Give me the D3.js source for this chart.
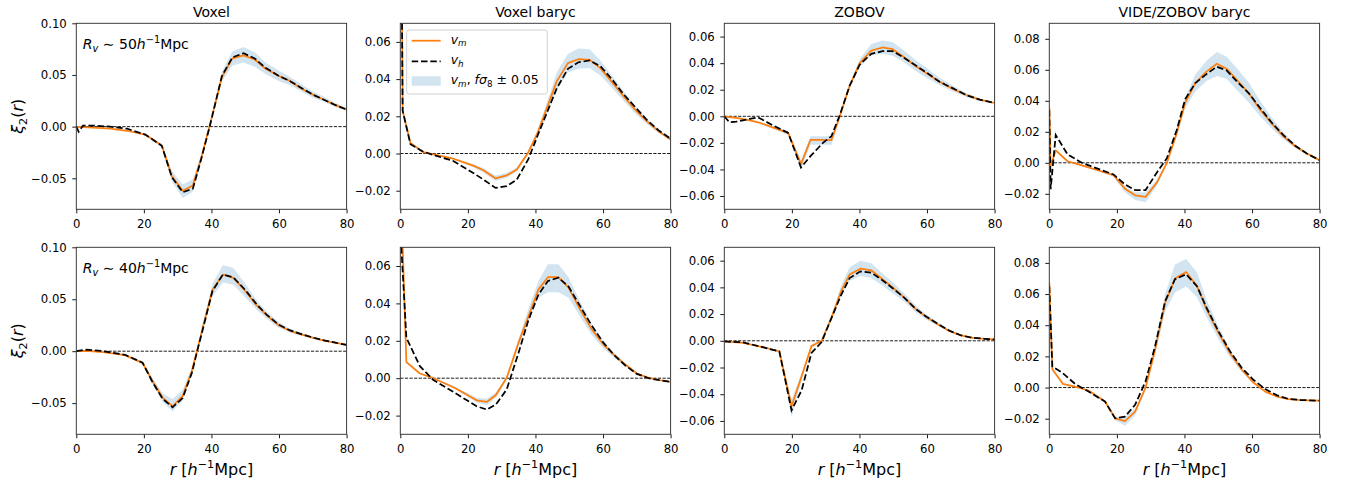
<!DOCTYPE html>
<html><head><meta charset="utf-8">
<script src="https://cdn.jsdelivr.net/npm/d3@7"></script>
<style>
body{margin:0;background:#fff}
svg text{font-family:"DejaVu Sans","Liberation Sans",sans-serif;fill:#000}
</style>
</head><body><svg id="chart" width="1347" height="485"></svg>
<script>
// ---------- DATA ----------
const xTicks = [0, 20, 40, 60, 80];
const titles = ["Voxel", "Voxel baryc", "ZOBOV", "VIDE/ZOBOV baryc"];
const radiusLabels = ["50", "40"];

const yDomainVoxel = [-0.08, 0.10];
const yDomainVoxelBaryc = [-0.03, 0.07];
const yDomainZobov = [-0.07, 0.07];
const yDomainVide = [-0.03, 0.09];
const yTicksVoxel = [-0.05, 0.00, 0.05, 0.10];
const yTicksVoxelBaryc = [-0.02, 0.00, 0.02, 0.04, 0.06];
const yTicksZobov = [-0.06, -0.04, -0.02, 0.00, 0.02, 0.04, 0.06];
const yTicksVide = [-0.02, 0.00, 0.02, 0.04, 0.06, 0.08];

// Row 1 (R_v ~ 50), Voxel
const r1  = [0, 0.7, 2, 5, 10, 15, 20.4, 25.3, 28.3, 31.5, 34.5, 37, 39.4, 43.1, 46.2, 49.5, 52.8, 56, 60, 63.3, 66.6, 70, 73.3, 76.6, 80];
const vm1 = [0, -0.0002, -0.0005, -0.001, -0.002, -0.004, -0.0077, -0.0183, -0.048, -0.062, -0.057, -0.030, 0, 0.048, 0.066, 0.069, 0.065, 0.056, 0.049, 0.044, 0.037, 0.031, 0.026, 0.021, 0.0165];
const vh1 = [0, -0.005, 0.001, 0.001, 0, -0.002, -0.0077, -0.0185, -0.049, -0.0635, -0.060, -0.031, -0.001, 0.049, 0.067, 0.071, 0.066, 0.057, 0.049, 0.044, 0.0375, 0.031, 0.026, 0.021, 0.0165];
const lo1 = [0, -0.0003, -0.0006, -0.0012, -0.0024, -0.0045, -0.0085, -0.020, -0.053, -0.069, -0.063, -0.033, -0.001, 0.044, 0.059, 0.062, 0.058, 0.051, 0.044, 0.040, 0.034, 0.028, 0.024, 0.019, 0.0155];
const hi1 = [0, -0.0001, -0.0004, -0.0008, -0.0016, -0.0035, -0.007, -0.0165, -0.043, -0.056, -0.051, -0.027, 0.001, 0.053, 0.073, 0.077, 0.072, 0.062, 0.054, 0.048, 0.041, 0.034, 0.029, 0.023, 0.018];

// Row 1, Voxel baryc
const r2  = [0, 0.7, 3, 6.8, 9.8, 15.7, 21.6, 24.6, 28.2, 31.5, 34.5, 37.9, 40.5, 43.4, 46.3, 49.6, 52.7, 56, 59.2, 62.6, 66, 69.5, 73, 76.4, 80];
const vm2 = [0.2, 0.023, 0.0057, 0.0007, -0.0005, -0.0028, -0.0065, -0.009, -0.0134, -0.0118, -0.0086, 0.0007, 0.0105, 0.0245, 0.0388, 0.0486, 0.0507, 0.0504, 0.0459, 0.0385, 0.031, 0.0236, 0.0173, 0.012, 0.0075];
const vh2 = [0.2, 0.023, 0.005, 0.001, -0.0008, -0.004, -0.0105, -0.014, -0.0185, -0.0175, -0.014, -0.003, 0.009, 0.022, 0.035, 0.0455, 0.049, 0.050, 0.047, 0.040, 0.032, 0.025, 0.018, 0.0125, 0.008];
const lo2 = [0.2, 0.023, 0.0055, 0.0006, -0.0007, -0.0032, -0.0074, -0.0102, -0.0148, -0.013, -0.0097, 0, 0.009, 0.0205, 0.034, 0.0435, 0.0455, 0.046, 0.042, 0.0355, 0.0285, 0.0215, 0.0158, 0.011, 0.007];
const hi2 = [0.2, 0.023, 0.006, 0.0008, -0.0003, -0.0024, -0.0056, -0.0078, -0.0118, -0.0104, -0.0075, 0.0014, 0.012, 0.0275, 0.0435, 0.0535, 0.0565, 0.056, 0.050, 0.042, 0.0338, 0.0258, 0.0188, 0.013, 0.008];

// Row 1, ZOBOV
const r3  = [0, 1.5, 3.6, 7.5, 10, 14.5, 18.9, 22.7, 25.5, 29.2, 31.7, 34.2, 37.1, 40.1, 43.5, 46.8, 49.8, 52.9, 56.8, 59.8, 63.7, 67.7, 71.6, 75.6, 80];
const vm3 = [0, -0.0006, -0.0012, -0.003, -0.0045, -0.0085, -0.0125, -0.036, -0.0178, -0.0178, -0.018, 0, 0.023, 0.040, 0.0495, 0.0518, 0.0505, 0.045, 0.0375, 0.0325, 0.026, 0.0205, 0.016, 0.0125, 0.010];
const vh3 = [0, -0.0045, -0.004, -0.002, -0.0008, -0.007, -0.0125, -0.0385, -0.030, -0.020, -0.015, 0.001, 0.023, 0.039, 0.047, 0.049, 0.049, 0.0445, 0.038, 0.033, 0.026, 0.021, 0.016, 0.0125, 0.010];
const lo3 = [0, -0.0007, -0.0014, -0.0034, -0.005, -0.0095, -0.014, -0.040, -0.0215, -0.0215, -0.0215, -0.001, 0.021, 0.037, 0.046, 0.047, 0.0455, 0.041, 0.034, 0.029, 0.0235, 0.0185, 0.0145, 0.0115, 0.0095];
const hi3 = [0, -0.0005, -0.001, -0.0026, -0.004, -0.0075, -0.011, -0.033, -0.015, -0.015, -0.015, 0.001, 0.025, 0.043, 0.0545, 0.057, 0.056, 0.050, 0.042, 0.0365, 0.029, 0.023, 0.0175, 0.0135, 0.0105];

// Row 1, VIDE/ZOBOV baryc
const r4  = [0, 0.4, 1.9, 5.4, 9.6, 14.3, 19, 22.4, 25.4, 28.5, 31.8, 34.8, 37.7, 40.2, 43.2, 46.6, 49.6, 52.5, 55.5, 59, 62.4, 65.9, 69.3, 72.8, 76.2, 80];
const vm4 = [0.036, -0.002, 0.008, 0.001, -0.0017, -0.0048, -0.008, -0.0167, -0.021, -0.022, -0.0129, 0, 0.019, 0.0386, 0.0514, 0.059, 0.0639, 0.0607, 0.0536, 0.045, 0.0343, 0.0253, 0.0171, 0.0107, 0.006, 0.0017];
const vh4 = [0.034, -0.017, 0.018, 0.0054, 0, -0.0038, -0.0075, -0.014, -0.0176, -0.0176, -0.0064, 0.003, 0.021, 0.041, 0.0514, 0.0574, 0.062, 0.0596, 0.0525, 0.045, 0.0354, 0.0257, 0.0178, 0.011, 0.006, 0.0017];
const lo4 = [0.036, -0.002, 0.0075, 0.0008, -0.002, -0.0053, -0.009, -0.019, -0.024, -0.0255, -0.015, -0.0005, 0.017, 0.035, 0.046, 0.053, 0.056, 0.054, 0.047, 0.039, 0.030, 0.022, 0.015, 0.0095, 0.0053, 0.0014];
const hi4 = [0.036, -0.002, 0.0085, 0.0012, -0.0014, -0.0043, -0.007, -0.015, -0.019, -0.019, -0.011, 0.0005, 0.021, 0.042, 0.057, 0.066, 0.0715, 0.0685, 0.061, 0.052, 0.040, 0.029, 0.0195, 0.012, 0.0068, 0.002];

// Row 2 (R_v ~ 40), Voxel
const r5  = [0, 3, 8, 14.4, 19.6, 22.6, 25.6, 28.5, 31.5, 34.2, 35.7, 37.6, 40.3, 43.4, 46.5, 50, 53.4, 56.4, 59.9, 63.3, 66.8, 70.2, 73.7, 77, 80];
const vm5 = [0, 0.0003, -0.001, -0.0038, -0.0112, -0.029, -0.045, -0.053, -0.043, -0.019, 0, 0.025, 0.059, 0.0738, 0.0706, 0.058, 0.044, 0.0345, 0.025, 0.0195, 0.016, 0.0128, 0.010, 0.008, 0.006];
const vh5 = [0, 0.0015, 0, -0.0035, -0.011, -0.030, -0.046, -0.054, -0.045, -0.021, -0.001, 0.023, 0.058, 0.0738, 0.071, 0.059, 0.045, 0.035, 0.0255, 0.020, 0.0162, 0.013, 0.0101, 0.008, 0.006];
const lo5 = [0, 0.0002, -0.0012, -0.0042, -0.0125, -0.032, -0.049, -0.058, -0.047, -0.021, -0.0005, 0.022, 0.053, 0.066, 0.064, 0.052, 0.040, 0.031, 0.0225, 0.0178, 0.0146, 0.0117, 0.009, 0.0074, 0.0055];
const hi5 = [0, 0.0004, -0.0008, -0.0034, -0.010, -0.026, -0.041, -0.046, -0.037, -0.016, 0.0005, 0.028, 0.065, 0.083, 0.080, 0.065, 0.049, 0.038, 0.028, 0.0215, 0.0175, 0.014, 0.011, 0.0087, 0.0065];

// Row 2, Voxel baryc
const r6  = [0, 1.8, 5.8, 9.8, 16.2, 22.6, 25.6, 28.3, 31.5, 35, 37.9, 40.9, 43.7, 46.8, 49.8, 53.2, 56.7, 60.1, 63.1, 66.6, 70, 73.5, 76.9, 80];
const vm6 = [0.11, 0.0086, 0.0025, 0, -0.0052, -0.0118, -0.0127, -0.009, 0.0002, 0.019, 0.033, 0.0475, 0.054, 0.054, 0.0484, 0.0368, 0.026, 0.018, 0.0127, 0.0073, 0.0025, 0.0002, -0.0011, -0.002];
const vh6 = [0.08, 0.0216, 0.0064, -0.001, -0.0079, -0.015, -0.0168, -0.014, -0.006, 0.0136, 0.031, 0.0448, 0.052, 0.0537, 0.049, 0.0386, 0.028, 0.019, 0.0127, 0.0068, 0.0023, 0, -0.0011, -0.002];
const lo6 = [0.11, 0.008, 0.0022, -0.0002, -0.0058, -0.013, -0.0145, -0.0105, -0.0005, 0.017, 0.030, 0.043, 0.046, 0.046, 0.043, 0.033, 0.023, 0.016, 0.0112, 0.0065, 0.0021, 0, -0.0012, -0.0021];
const hi6 = [0.11, 0.0092, 0.0028, 0.0002, -0.0046, -0.0105, -0.011, -0.0075, 0.001, 0.021, 0.037, 0.052, 0.061, 0.061, 0.054, 0.041, 0.029, 0.020, 0.014, 0.008, 0.003, 0.0004, -0.001, -0.0019];

// Row 2, ZOBOV
const r7  = [0, 5.6, 11, 16.3, 19.9, 22.9, 25.8, 28.8, 31.7, 34.7, 37.1, 40.3, 43.5, 47, 50, 53.4, 56.8, 59.8, 63.3, 66.7, 70.1, 73.6, 77, 80];
const vm7 = [-0.0005, -0.0015, -0.0045, -0.008, -0.049, -0.0265, -0.004, 0, 0.0172, 0.038, 0.0496, 0.054, 0.0528, 0.0458, 0.0396, 0.032, 0.0234, 0.0179, 0.0122, 0.0072, 0.004, 0.0022, 0.0015, 0.001];
const vh7 = [-0.0005, -0.0012, -0.0045, -0.008, -0.052, -0.037, -0.009, -0.001, 0.017, 0.035, 0.047, 0.052, 0.051, 0.045, 0.039, 0.032, 0.0236, 0.018, 0.0125, 0.0075, 0.004, 0.0022, 0.0015, 0.001];
const lo7 = [-0.0006, -0.0017, -0.005, -0.009, -0.057, -0.029, -0.005, -0.0005, 0.015, 0.034, 0.045, 0.0485, 0.047, 0.041, 0.0355, 0.029, 0.021, 0.016, 0.011, 0.0065, 0.0036, 0.002, 0.0013, 0.0009];
const hi7 = [-0.0004, -0.0013, -0.004, -0.007, -0.044, -0.024, -0.003, 0.0005, 0.019, 0.042, 0.055, 0.060, 0.058, 0.050, 0.0435, 0.035, 0.026, 0.0198, 0.0135, 0.008, 0.0044, 0.0024, 0.0017, 0.0011];

// Row 2, VIDE/ZOBOV baryc
const r8  = [0, 0.9, 4, 7.6, 11.6, 16.5, 19.5, 22.4, 25.4, 28.5, 31.3, 34.3, 37.2, 40.5, 43.7, 46.6, 50.1, 53.5, 57, 60.4, 63.9, 67.4, 70.8, 74.3, 80];
const vm8 = [0.0673, 0.0118, 0.0024, 0.0006, -0.0019, -0.009, -0.0198, -0.0215, -0.0155, 0, 0.024, 0.0544, 0.0699, 0.0742, 0.0652, 0.050, 0.035, 0.022, 0.0114, 0.0032, -0.0026, -0.0058, -0.0075, -0.008, -0.0084];
const vh8 = [0.065, 0.0135, 0.0092, 0.0024, -0.0026, -0.009, -0.0198, -0.0187, -0.011, 0.004, 0.0265, 0.0555, 0.0695, 0.0727, 0.065, 0.051, 0.036, 0.0232, 0.0125, 0.005, -0.001, -0.005, -0.0073, -0.008, -0.0084];
const lo8 = [0.0673, 0.011, 0.002, 0.0004, -0.0022, -0.0098, -0.021, -0.0245, -0.018, -0.001, 0.021, 0.049, 0.061, 0.065, 0.058, 0.045, 0.031, 0.0195, 0.010, 0.0028, -0.0029, -0.006, -0.0078, -0.0083, -0.0087];
const hi8 = [0.0673, 0.0126, 0.0028, 0.0008, -0.0016, -0.0082, -0.0185, -0.019, -0.0135, 0.001, 0.028, 0.060, 0.079, 0.0825, 0.074, 0.056, 0.039, 0.0245, 0.0125, 0.0036, -0.0023, -0.0055, -0.0072, -0.0077, -0.0081];

// ---------- PANELS ----------
const panels = [
  {row:0,col:0,r:r1,vm:vm1,vh:vh1,lo:lo1,hi:hi1,dom:yDomainVoxel,ticks:yTicksVoxel},
  {row:0,col:1,r:r2,vm:vm2,vh:vh2,lo:lo2,hi:hi2,dom:yDomainVoxelBaryc,ticks:yTicksVoxelBaryc},
  {row:0,col:2,r:r3,vm:vm3,vh:vh3,lo:lo3,hi:hi3,dom:yDomainZobov,ticks:yTicksZobov},
  {row:0,col:3,r:r4,vm:vm4,vh:vh4,lo:lo4,hi:hi4,dom:yDomainVide,ticks:yTicksVide},
  {row:1,col:0,r:r5,vm:vm5,vh:vh5,lo:lo5,hi:hi5,dom:yDomainVoxel,ticks:yTicksVoxel},
  {row:1,col:1,r:r6,vm:vm6,vh:vh6,lo:lo6,hi:hi6,dom:yDomainVoxelBaryc,ticks:yTicksVoxelBaryc},
  {row:1,col:2,r:r7,vm:vm7,vh:vh7,lo:lo7,hi:hi7,dom:yDomainZobov,ticks:yTicksZobov},
  {row:1,col:3,r:r8,vm:vm8,vh:vh8,lo:lo8,hi:hi8,dom:yDomainVide,ticks:yTicksVide}
];

// ---------- LAYOUT ----------
const colLeft = [76.3, 400.3, 724.3, 1049.3];
const panelW = 270.3;
const rowTop = [23.3, 247.3];
const rowBot = [209.3, 434.3];
const tickFont = 11.7;
const ORANGE = "#ff7f0e";
const BAND = "#1f77b4";

const svg = d3.select("#chart");

// rich text helper: runs = [{t, it, pos:'sub'|'sup'}]
function rich(textSel, runs, size) {
  let cur = 0;
  runs.forEach(run => {
    let target = 0, fs = size;
    if (run.pos === "sub") { target = 0.22 * size; fs = size * 0.7; }
    if (run.pos === "sup") { target = -0.42 * size; fs = size * 0.7; }
    const ts = textSel.append("tspan").text(run.t).attr("font-size", fs);
    if (run.it) ts.attr("font-style", "italic");
    if (target !== cur) { ts.attr("dy", target - cur); cur = target; }
  });
}

panels.forEach((p, i) => {
  const x0 = colLeft[p.col], y0 = rowTop[p.row], y1 = rowBot[p.row];
  const x = d3.scaleLinear().domain([0, 80]).range([x0, x0 + panelW]);
  const y = d3.scaleLinear().domain(p.dom).range([y1, y0]);
  const pts = p.r.map((rv, k) => ({r: rv, vm: p.vm[k], vh: p.vh[k], lo: p.lo[k], hi: p.hi[k]}));

  const clipId = "clip" + i;
  svg.append("clipPath").attr("id", clipId).append("rect")
    .attr("x", x0).attr("y", y0).attr("width", panelW).attr("height", y1 - y0);
  const g = svg.append("g").attr("clip-path", `url(#${clipId})`);

  g.append("path").datum(pts)
    .attr("d", d3.area().x(d => x(d.r)).y0(d => y(d.lo)).y1(d => y(d.hi)))
    .attr("fill", BAND).attr("fill-opacity", 0.2);

  g.append("line").attr("x1", x(0)).attr("x2", x(80)).attr("y1", y(0)).attr("y2", y(0))
    .attr("stroke", "#000").attr("stroke-width", 0.9).attr("stroke-dasharray", "3.2,1.4");

  g.append("path").datum(pts)
    .attr("d", d3.line().x(d => x(d.r)).y(d => y(d.vm)))
    .attr("fill", "none").attr("stroke", ORANGE).attr("stroke-width", 1.75)
    .attr("stroke-linejoin", "round");

  g.append("path").datum(pts)
    .attr("d", d3.line().x(d => x(d.r)).y(d => y(d.vh)))
    .attr("fill", "none").attr("stroke", "#000").attr("stroke-width", 1.75)
    .attr("stroke-dasharray", "6.5,2.8");

  // axes
  const ax = svg.append("g").attr("transform", `translate(0,${y1})`)
    .call(d3.axisBottom(x).tickValues(xTicks).tickFormat(d3.format("d")).tickSize(4).tickPadding(6.7));
  const ay = svg.append("g").attr("transform", `translate(${x0},0)`)
    .call(d3.axisLeft(y).tickValues(p.ticks).tickFormat(d3.format(".2f")).tickSize(4).tickPadding(5.5));
  [ax, ay].forEach(a => {
    a.select(".domain").remove();
    a.selectAll(".tick line").attr("stroke", "#000").attr("stroke-width", 0.9);
    a.selectAll(".tick text").attr("font-size", tickFont).attr("fill", "#000")
      .attr("font-family", '"DejaVu Sans", sans-serif');
  });

  // frame
  svg.append("rect").attr("x", x0).attr("y", y0).attr("width", panelW).attr("height", y1 - y0)
    .attr("fill", "none").attr("stroke", "#333").attr("stroke-width", 0.95);

  if (p.row === 0) {
    svg.append("text").attr("x", x0 + panelW / 2).attr("y", 16.5).attr("text-anchor", "middle")
      .attr("font-size", 14).text(titles[p.col]);
  } else {
    const t = svg.append("text").attr("x", x0 + panelW / 2).attr("y", 475).attr("text-anchor", "middle")
      .attr("font-size", 16);
    rich(t, [{t: "r", it: true}, {t: " ["}, {t: "h", it: true}, {t: "−1", pos: "sup"}, {t: "Mpc]"}], 16);
  }

  if (p.col === 0) {
    const cy = (y0 + y1) / 2;
    const t = svg.append("text").attr("transform", `translate(23,${cy}) rotate(-90)`)
      .attr("text-anchor", "middle").attr("font-size", 16);
    rich(t, [{t: "ξ", it: true}, {t: "2", pos: "sub"}, {t: "(", pos: "base"}, {t: "r", it: true}, {t: ")"}], 16);

    const a = svg.append("text").attr("x", x0 + 6.5).attr("y", y0 + 26).attr("font-size", 14);
    rich(a, [{t: "R", it: true}, {t: "v", it: true, pos: "sub"}, {t: " ∼ " }, {t: radiusLabels[p.row]},
             {t: "h", it: true}, {t: "−1", pos: "sup"}, {t: "Mpc"}], 14);
  }

  // legend
  if (p.row === 0 && p.col === 1) {
    const lg = svg.append("g");
    const lx = x0 + 6.4, ly = y0 + 6.7;
    lg.append("rect").attr("x", lx).attr("y", ly).attr("width", 140.6).attr("height", 64)
      .attr("rx", 2.5).attr("fill", "#fff").attr("fill-opacity", 0.8)
      .attr("stroke", "#ccc").attr("stroke-width", 0.9);
    const hx0 = lx + 5, hx1 = lx + 34, tx = lx + 44;
    const rows = [ly + 10.7, ly + 31.4, ly + 51];
    lg.append("line").attr("x1", hx0).attr("x2", hx1).attr("y1", rows[0]).attr("y2", rows[0])
      .attr("stroke", ORANGE).attr("stroke-width", 1.75);
    lg.append("line").attr("x1", hx0).attr("x2", hx1).attr("y1", rows[1]).attr("y2", rows[1])
      .attr("stroke", "#000").attr("stroke-width", 1.75).attr("stroke-dasharray", "6.5,2.8");
    lg.append("rect").attr("x", hx0).attr("y", rows[2] - 4.7).attr("width", hx1 - hx0).attr("height", 9.4)
      .attr("fill", BAND).attr("fill-opacity", 0.2);
    const fs = 12.5;
    const t1 = lg.append("text").attr("x", tx).attr("y", rows[0] + 3).attr("font-size", fs);
    rich(t1, [{t: "v", it: true}, {t: "m", it: true, pos: "sub"}], fs);
    const t2 = lg.append("text").attr("x", tx).attr("y", rows[1] + 3).attr("font-size", fs);
    rich(t2, [{t: "v", it: true}, {t: "h", it: true, pos: "sub"}], fs);
    const t3 = lg.append("text").attr("x", tx).attr("y", rows[2] + 3).attr("font-size", fs);
    rich(t3, [{t: "v", it: true}, {t: "m", it: true, pos: "sub"}, {t: ", "}, {t: "fσ", it: true},
              {t: "8", pos: "sub"}, {t: " ± 0.05"}], fs);
  }
});
</script>
</body></html>
